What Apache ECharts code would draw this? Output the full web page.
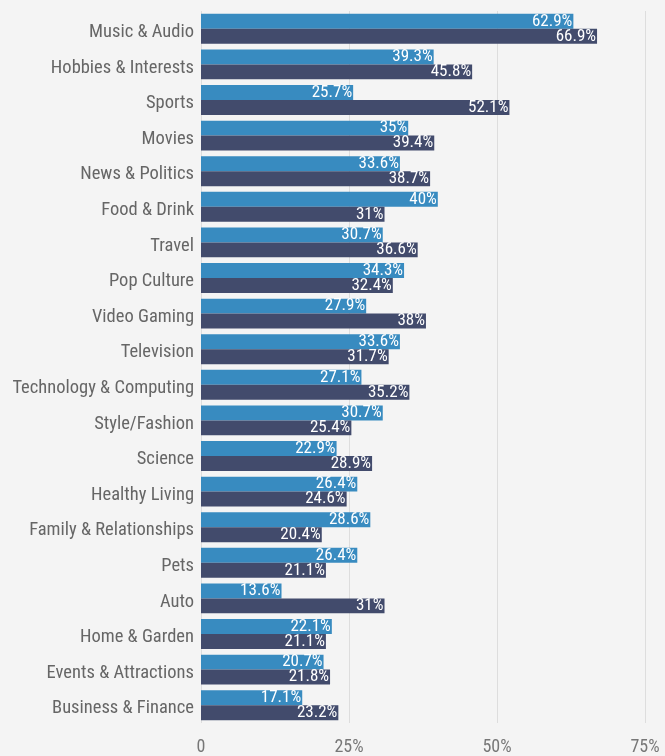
<!DOCTYPE html>
<html><head><meta charset="utf-8">
<script src="https://cdn.jsdelivr.net/npm/echarts@6/dist/echarts.min.js"></script>
<style>html,body{margin:0;padding:0;background:#f4f4f4}#c{width:665px;height:756px}</style>
</head><body><div id="c"></div>
<script>
const categories = ["Music & Audio","Hobbies & Interests","Sports","Movies","News & Politics","Food & Drink","Travel","Pop Culture","Video Gaming","Television","Technology & Computing","Style/Fashion","Science","Healthy Living","Family & Relationships","Pets","Auto","Home & Garden","Events & Attractions","Business & Finance"];
const seriesA = [62.9,39.3,25.7,35,33.6,40,30.7,34.3,27.9,33.6,27.1,30.7,22.9,26.4,28.6,26.4,13.6,22.1,20.7,17.1];
const seriesB = [66.9,45.8,52.1,39.4,38.7,31,36.6,32.4,38,31.7,35.2,25.4,28.9,24.6,20.4,21.1,31,21.1,21.8,23.2];
const xTicks = [0,25,50,75];
const FONT = "'Liberation Sans Narrow','Roboto Condensed','Roboto',sans-serif";
const chart = echarts.init(document.getElementById('c'));
const lbl = {show:true,position:'insideRight',distance:1,color:'#fff',fontSize:17,fontFamily:FONT,formatter:p=>p.value+'%'};
chart.setOption({
  backgroundColor:'#f4f4f4',
  animation:false,
  grid:{left:201,right:20,top:11,bottom:31},
  xAxis:{type:'value',min:0,max:75,interval:25,
    axisLine:{show:false},axisTick:{show:false},
    splitLine:{lineStyle:{color:'#dddddd'}},
    axisLabel:{color:'#777',fontSize:18,fontFamily:FONT,margin:15,formatter:v=>xTicks.includes(v)?(v===0?'0':v+'%'):''}},
  yAxis:{type:'category',data:categories,inverse:true,
    axisLine:{show:false},axisTick:{show:false},
    axisLabel:{color:'#666',fontSize:18.5,fontFamily:FONT,margin:7,verticalAlign:'top',lineHeight:7}},
  series:[
    {type:'bar',data:seriesA,barGap:'0%',barCategoryGap:'16%',itemStyle:{color:'#388bc0'},label:lbl},
    {type:'bar',data:seriesB,barGap:'0%',barCategoryGap:'16%',itemStyle:{color:'#424b6c'},label:lbl}
  ]
});
</script></body></html>
